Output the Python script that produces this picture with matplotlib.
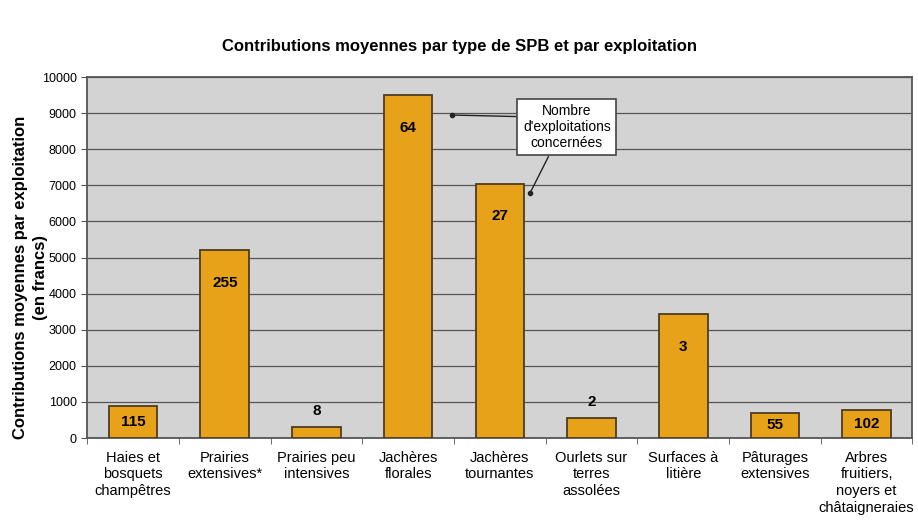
import numpy as np
import matplotlib
matplotlib.use("Agg")
import matplotlib.pyplot as plt

categories = ["Haies et\nbosquets\nchampêtres", "Prairies\nextensives*", "Prairies peu\nintensives",
              "Jachères\nflorales", "Jachères\ntournantes", "Ourlets sur\nterres\nassolées",
              "Surfaces à\nlitière", "Pâturages\nextensives", "Arbres\nfruitiers,\nnoyers et\nchâtaigneraies"]
contributions = [880, 5200, 310, 9500, 7050, 560, 3430, 700, 770]
n_exploitations = [115, 255, 8, 64, 27, 2, 3, 55, 102]
label_inside = [True, True, False, True, True, False, True, True, True]

plt.rcParams["font.family"] = ["Liberation Sans", "DejaVu Sans"]

fig = plt.figure(figsize=(9.18, 5.23), dpi=100)
ax = fig.add_axes([0.095, 0.1625, 0.899, 0.69])
ax.set_facecolor("#d3d3d3")

x = np.arange(len(categories))
ax.bar(x, contributions, width=0.53, color="#e8a219", edgecolor="#4d3c22", lw=1.3, zorder=3)

for xi, v, n, inside in zip(x, contributions, n_exploitations, label_inside):
    if inside:
        yy = v - 900 if v > 2000 else v / 2
    else:
        yy = v + 440
    ax.text(xi, yy, str(n), ha="center", va="center", fontsize=11, fontweight="bold", zorder=4)

ax.set_xlim(-0.5, len(categories) - 0.5)
ax.set_ylim(0, 10000)
ax.set_yticks(np.arange(0, 10001, 1000))
ax.yaxis.grid(True, color="#555555", lw=0.9, zorder=1)
ax.set_axisbelow(True)
ax.set_xticks(x)
ax.set_xticklabels(categories, fontsize=10.5, linespacing=1.25)
ax.tick_params(axis="x", length=0, pad=9)
ax.set_xticks(np.arange(-0.5, len(categories)), minor=True)
ax.tick_params(axis="x", which="minor", length=4, color="#555555")
ax.tick_params(axis="y", labelsize=9, length=4, color="#555555")
for s in ax.spines.values():
    s.set_color("#555555")
    s.set_linewidth(1.3)

ax.set_ylabel("Contributions moyennes par exploitation\n(en francs)", fontsize=12,
              fontweight="bold", linespacing=1.45)
ax.yaxis.set_label_coords(-0.047, 0.446)
fig.suptitle("Contributions moyennes par type de SPB et par exploitation", y=0.925,
             fontsize=12, fontweight="bold")

bbox = dict(boxstyle="square,pad=0.4", fc="white", ec="#444444", lw=1.2)
arrow = dict(arrowstyle="-", color="#222222", lw=1.0, shrinkA=0, shrinkB=0)
ax.annotate("Nombre\nd'exploitations\nconcernées", xy=(3.48, 8950), xytext=(4.73, 8615),
            ha="center", va="center", fontsize=10, linespacing=1.15, bbox=bbox,
            arrowprops=dict(arrow, relpos=(0.0, 0.73)), zorder=5)
ax.plot([3.48], [8950], "o", color="#222222", ms=3, zorder=5)
ax.annotate("", xy=(4.33, 6790), xytext=(4.53, 7800), arrowprops=arrow, zorder=5)
ax.plot([4.33], [6790], "o", color="#222222", ms=3, zorder=5)

fig.savefig("out.png", dpi=100)
